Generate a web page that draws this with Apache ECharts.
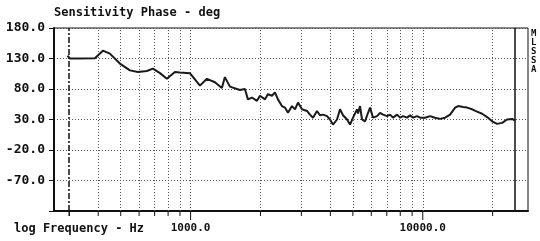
<!DOCTYPE html>
<html>
<head>
<meta charset="utf-8">
<script src="https://cdn.jsdelivr.net/npm/echarts@6/dist/echarts.min.js"></script>
<style>
  html, body { margin: 0; padding: 0; background: #fff; }
  #chart { width: 540px; height: 241px; }
</style>
</head>
<body>
<div id="chart"></div>
<script>
// phase curve (Hz / deg)
var freqHz = [295, 302, 333, 387, 419, 449, 496, 548, 593, 648, 688, 738, 790, 856, 899, 993,
  1097, 1176, 1273, 1364, 1405, 1477, 1631, 1714, 1766, 1838, 1931, 1990, 2091, 2154, 2241,
  2309, 2378, 2474, 2549, 2626, 2733, 2816, 2901, 3018, 3172, 3267, 3367, 3503, 3609, 3718,
  3869, 3985, 4106, 4272, 4401, 4535, 4718, 4861, 5008, 5211, 5263, 5368, 5475, 5640, 5812,
  5928, 6107, 6355, 6546, 6745, 7019, 7228, 7447, 7750, 7982, 8225, 8558, 8815, 9083, 9450,
  9736, 10230, 10752, 11297, 11874, 12477, 13118, 13783, 14200, 14923, 15518, 16313, 17143,
  18019, 18932, 19896, 20911, 21970, 23088, 24264, 24996];
var phaseDeg = [134.5, 130, 130, 130.5, 142.8, 138, 121.7, 110.5, 107.8, 109.5, 113.3, 106, 96.7, 107.8, 107, 106,
  85.5, 96.7, 91, 81.7, 99.5, 83.9, 78.3, 80, 63, 66, 60.6, 69, 63, 71.7, 69,
  74.5, 63, 52, 49.5, 41, 52, 46.7, 57.8, 46.7, 44, 38, 33, 44, 37, 38,
  35.5, 30, 21.7, 30, 46.7, 37, 30, 21.7, 33, 46.7, 40, 52, 30, 27, 41,
  49.5, 33, 35.5, 41, 38, 35.5, 38, 33, 38, 33, 35.5, 33, 36.7, 33, 35.5,
  33, 33, 35.5, 33, 31, 33, 38, 49.5, 52, 50.5, 49.5, 46.7, 42.8,
  39.5, 34, 27, 22.8, 24.5, 30, 31, 28];

var yTicks = [-120, -70, -20, 30, 80, 130, 180];
var gridFreqs = [400, 500, 600, 700, 800, 900, 1000, 2000, 3000, 4000, 5000, 6000, 7000, 8000, 9000, 10000, 20000];
var tickFreqs = [300, 400, 500, 600, 700, 800, 900, 1000, 2000, 3000, 4000, 5000, 6000, 7000, 8000, 9000, 10000, 20000];
var labelFreqs = [1000, 10000];
var markerLow = 300;
var markerHigh = 25000;
var fMin = 258, fMax = 28400;

var yMin = yTicks[0], yMax = yTicks[yTicks.length - 1];
var mono = 'DejaVu Sans Mono';

var curve = freqHz.map(function (f, i) { return [f, phaseDeg[i]]; });

var option = {
  backgroundColor: '#fff',
  animation: false,
  grid: {
    left: 54, right: 12, top: 28, bottom: 30,
    show: true, borderColor: '#111', borderWidth: 1
  },
  xAxis: {
    type: 'log',
    logBase: 10,
    min: fMin,
    max: fMax,
    axisLine: { show: true, onZero: false, lineStyle: { color: '#111', width: 2 } },
    axisTick: { show: false },
    splitLine: { show: false },
    minorTick: { show: false },
    axisLabel: {
      margin: 12,
      fontFamily: mono,
      fontSize: 11,
      fontWeight: 'bold',
      color: '#111',
      showMinLabel: false,
      showMaxLabel: false,
      formatter: function (v) {
        for (var i = 0; i < labelFreqs.length; i++) {
          if (Math.abs(v - labelFreqs[i]) < 1) return labelFreqs[i].toFixed(1);
        }
        return '';
      }
    }
  },
  yAxis: {
    type: 'value',
    min: yMin,
    max: yMax,
    interval: 50,
    axisLine: { show: true, lineStyle: { color: '#111', width: 2 } },
    axisTick: { show: true, inside: false, length: 5, lineStyle: { color: '#111' } },
    axisLabel: {
      margin: 9,
      fontFamily: mono,
      fontSize: 13,
      fontWeight: 'bold',
      color: '#111',
      formatter: function (v) { return v === yMin ? '' : v.toFixed(1); }
    },
    splitLine: { show: true, lineStyle: { color: '#555', type: [1, 2], width: 1 } }
  },
  graphic: [
    {
      type: 'text', left: 54, top: 7,
      style: { text: 'Sensitivity Phase - deg', font: 'bold 12px "DejaVu Sans Mono"', fill: '#111' }
    },
    {
      type: 'text', left: 14, top: 223,
      style: { text: 'log Frequency - Hz', font: 'bold 12px "DejaVu Sans Mono"', fill: '#111' }
    },
    {
      type: 'text', left: 531, top: 29,
      style: { text: 'M\nL\nS\nS\nA', font: 'bold 9px "DejaVu Sans Mono"', lineHeight: 9, fill: '#111' }
    }
  ],
  series: [
    {
      type: 'line',
      data: curve,
      showSymbol: false,
      smooth: false,
      lineStyle: { color: '#1a1a1a', width: 2 },
      z: 5,
      markLine: {
        silent: true,
        symbol: 'none',
        label: { show: false },
        lineStyle: { color: '#555', type: [1, 2], width: 1 },
        data: gridFreqs.map(function (f) { return { xAxis: f }; }).concat([
          { xAxis: markerLow, lineStyle: { color: '#111', type: [6, 2, 2, 2], width: 1.5 } },
          { xAxis: markerHigh, lineStyle: { color: '#111', type: 'solid', width: 1.5 } }
        ])
      }
    },
    {
      type: 'custom',
      silent: true,
      clip: false,
      data: tickFreqs.map(function (f) { return [f, yMin]; }),
      encode: { x: 0, y: 1 },
      renderItem: function (params, api) {
        var f = api.value(0);
        var p = api.coord([f, yMin]);
        var major = labelFreqs.indexOf(f) >= 0;
        var len = major ? 9 : 5;
        return {
          type: 'line',
          shape: { x1: p[0], y1: p[1], x2: p[0], y2: p[1] + len },
          style: { stroke: '#111', lineWidth: f === markerLow ? 1.5 : 1 }
        };
      }
    }
  ]
};

var chart = echarts.init(document.getElementById('chart'), null, { renderer: 'canvas' });
chart.setOption(option);
</script>
</body>
</html>
